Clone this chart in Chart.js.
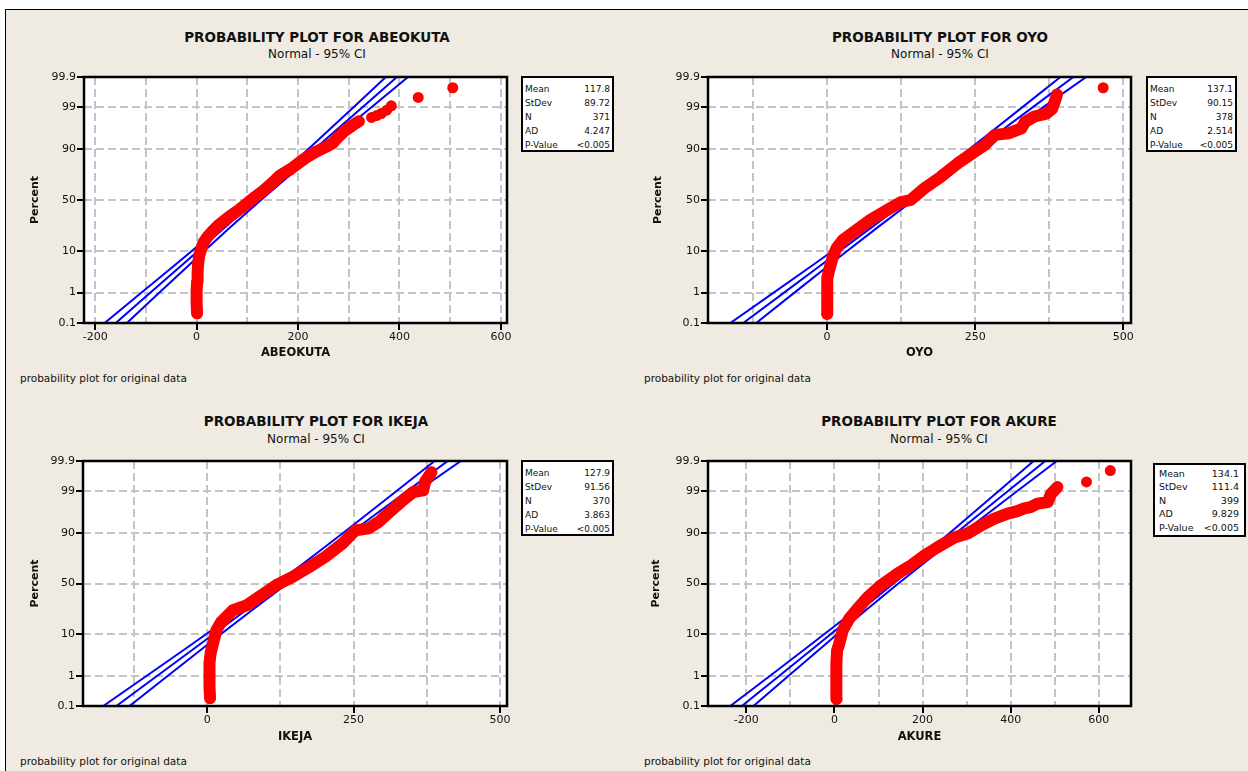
<!DOCTYPE html>
<html>
<head>
<meta charset="utf-8">
<title>Probability plots</title>
<script src="https://cdn.jsdelivr.net/npm/chart.js@4.4.1/dist/chart.umd.min.js"></script>
<style>
  html, body { margin: 0; padding: 0; background: #fff; }
  #page { position: relative; width: 1248px; height: 771px; overflow: hidden; background: #fff; font-family: 'DejaVu Sans', sans-serif; color: #111; }
  #sheet { position: absolute; left: 5px; top: 9px; right: 0; bottom: 0; background: #efebe2; border-top: 1px solid #000; border-left: 1px solid #000; }
  canvas { position: absolute; }
  .title, .sub { position: absolute; width: 400px; margin-left: -200px; text-align: center; line-height: 16px; white-space: nowrap; }
  .title { font-weight: bold; font-size: 13.5px; }
  .sub { font-size: 12px; }
  .note { position: absolute; font-size: 10.5px; line-height: 14px; white-space: nowrap; }
  .stats { position: absolute; box-sizing: border-box; border: 2px solid #000; background: #fff; }
  .stats table { border-collapse: collapse; width: 100%; }
  .stats td { padding: 0; white-space: nowrap; }
  .stats td + td { text-align: right; }
</style>
</head>
<body>
<div id="page">
  <div id="sheet"></div>

  <div class="title" style="left:317px; top:29px">PROBABILITY PLOT FOR ABEOKUTA</div>
  <div class="sub" style="left:317px; top:46px">Normal - 95% CI</div>
  <div class="note" style="left:20px; top:371px">probability plot for original data</div>

  <div class="title" style="left:940px; top:29px">PROBABILITY PLOT FOR OYO</div>
  <div class="sub" style="left:940px; top:46px">Normal - 95% CI</div>
  <div class="note" style="left:644px; top:371px">probability plot for original data</div>

  <div class="title" style="left:316px; top:413px">PROBABILITY PLOT FOR IKEJA</div>
  <div class="sub" style="left:316px; top:431px">Normal - 95% CI</div>
  <div class="note" style="left:20px; top:754px">probability plot for original data</div>

  <div class="title" style="left:939px; top:413px">PROBABILITY PLOT FOR AKURE</div>
  <div class="sub" style="left:939px; top:431px">Normal - 95% CI</div>
  <div class="note" style="left:644px; top:754px">probability plot for original data</div>
</div>

<script>
// percent axis and the percent levels where the fitted line / CI were read
const pctTicks = [0.1, 1, 10, 50, 90, 99, 99.9];
const ciPct = [0.1, 1, 5, 10, 25, 50, 75, 90, 95, 99, 99.9];
const statNames = ['Mean', 'StDev', 'N', 'AD', 'P-Value'];

// ABEOKUTA
const abeokutaX = [1, 0, 0, 1, 2, 3, 5, 9, 14, 22, 32, 45, 65, 80, 98, 115, 131, 150, 164, 185, 200, 215, 235, 256, 268, 276, 290, 305, 320];
const abeokutaPct = [0.22, 0.5, 1.1, 2, 3.5, 5.5, 8, 11, 14.5, 18, 22, 27, 34, 39, 46, 53, 59, 67, 73, 78, 82, 85.5, 88.7, 91, 92.3, 93.8, 95.7, 96.8, 97.6];
const abeokutaTailX = [345, 355, 364, 375, 384, 437, 505];
const abeokutaTailPct = [98.1, 98.3, 98.5, 98.8, 99.1, 99.5, 99.76];
const abeokutaFit = [-159.4, -90.9, -29.8, 2.8, 57.3, 117.8, 178.3, 232.8, 265.4, 326.5, 395.0];
const abeokutaLower = [-181.3, -108.5, -43.8, -9.5, 47.2, 108.7, 168.2, 220.5, 251.4, 308.9, 373.1];
const abeokutaUpper = [-137.5, -73.3, -15.8, 15.1, 67.4, 126.9, 188.4, 245.1, 279.4, 344.1, 416.9];
const abeokutaGrid = [-200, -100, 0, 100, 200, 300, 400, 500, 600];
const abeokutaLabels = [-200, 0, 200, 400, 600];
const abeokutaStats = ['117.8', '89.72', '371', '4.247', '<0.005'];

// OYO
const oyoX = [0, 0, 0, 1, 5, 10, 16, 27, 50, 73, 101, 125, 141, 164, 192, 220, 249, 266, 283, 306, 328, 334, 350, 370, 380, 386, 388];
const oyoPct = [0.21, 0.47, 1.2, 2.5, 4.7, 7.8, 11.3, 15.9, 22.7, 30.8, 40, 48, 50, 61.5, 72, 82, 88.7, 91.6, 94.9, 95.3, 96.4, 97.5, 98.2, 98.5, 98.9, 99.46, 99.6];
const oyoTailX = [466];
const oyoTailPct = [99.76];
const oyoFit = [-141.5, -72.6, -11.2, 21.6, 76.3, 137.1, 197.9, 252.6, 285.4, 346.8, 415.7];
const oyoLower = [-163.3, -90.1, -25.1, 9.3, 66.2, 128.0, 187.8, 240.3, 271.5, 329.3, 393.9];
const oyoUpper = [-119.7, -55.1, 2.7, 33.9, 86.4, 146.2, 208.0, 264.9, 299.3, 364.3, 437.5];
const oyoGrid = [-125, 0, 125, 250, 375, 500];
const oyoLabels = [0, 250, 500];
const oyoStats = ['137.1', '90.15', '378', '2.514', '<0.005'];

// IKEJA
const ikejaX = [5, 4, 4, 4, 6, 10, 16, 24, 44, 67, 89, 118, 146, 174, 202, 231, 253, 276, 293, 315, 338, 352, 369, 372, 383];
const ikejaPct = [0.19, 0.47, 1, 2.3, 4, 6.5, 12, 16.6, 25, 29, 36.8, 48.4, 56.7, 66, 75, 84.3, 91, 91.8, 94, 96.8, 98.4, 98.95, 99.06, 99.48, 99.75];
const ikejaTailX = [];
const ikejaTailPct = [];
const ikejaFit = [-155.0, -85.1, -22.7, 10.6, 66.2, 127.9, 189.6, 245.2, 278.5, 340.9, 410.8];
const ikejaLower = [-177.4, -103.1, -37.0, -2.0, 55.9, 118.6, 179.3, 232.6, 264.2, 322.9, 388.4];
const ikejaUpper = [-132.6, -67.1, -8.4, 23.2, 76.5, 137.2, 199.9, 257.8, 292.8, 358.9, 433.2];
const ikejaGrid = [-125, 0, 125, 250, 375, 500];
const ikejaLabels = [0, 250, 500];
const ikejaStats = ['127.9', '91.56', '370', '3.863', '<0.005'];

// AKURE
const akureX = [5, 4, 4, 5, 6, 11, 19, 34, 53, 76, 106, 144, 174, 204, 234, 272, 302, 333, 363, 393, 415, 431, 445, 461, 484, 491, 506];
const akurePct = [0.18, 0.41, 0.94, 2.2, 4.6, 6.5, 12, 19, 26.4, 36.8, 48.4, 60, 67.7, 76, 82, 87.7, 89.6, 92.9, 94.9, 96.1, 96.6, 97.1, 97.3, 97.8, 98, 98.8, 99.25];
const akureTailX = [572, 626];
const akureTailPct = [99.48, 99.78];
const akureFit = [-210.1, -125.0, -49.2, -8.7, 59.0, 134.1, 209.2, 276.9, 317.4, 393.2, 478.3];
const akureLower = [-236.4, -146.0, -66.0, -23.5, 46.9, 123.2, 197.1, 262.2, 300.6, 372.2, 452.0];
const akureUpper = [-183.8, -104.0, -32.4, 6.1, 71.1, 145.0, 221.3, 291.7, 334.2, 414.2, 504.6];
const akureGrid = [-200, -100, 0, 100, 200, 300, 400, 500, 600];
const akureLabels = [-200, 0, 200, 400, 600];
const akureStats = ['134.1', '111.4', '399', '9.829', '<0.005'];

// inverse normal cdf (Acklam) - used by the percent scale
function qnorm(p) {
  const a = [-39.69683028665376, 220.9460984245205, -275.9285104469687, 138.3577518672690, -30.66479806614716, 2.506628277459239];
  const b = [-54.47609879822406, 161.5858368580409, -155.6989798598866, 66.80131188771972, -13.28068155288572];
  const c = [-0.007784894002430293, -0.3223964580411365, -2.400758277161838, -2.549732539343734, 4.374664141464968, 2.938163982698783];
  const d = [0.007784695709041462, 0.3224671290700398, 2.445134137142996, 3.754408661907416];
  const lo = 0.02425;
  let q, r;
  if (p < lo) {
    q = Math.sqrt(-2 * Math.log(p));
    return (((((c[0]*q+c[1])*q+c[2])*q+c[3])*q+c[4])*q+c[5]) / ((((d[0]*q+d[1])*q+d[2])*q+d[3])*q+1);
  }
  if (p > 1 - lo) {
    q = Math.sqrt(-2 * Math.log(1 - p));
    return -(((((c[0]*q+c[1])*q+c[2])*q+c[3])*q+c[4])*q+c[5]) / ((((d[0]*q+d[1])*q+d[2])*q+d[3])*q+1);
  }
  q = p - 0.5; r = q * q;
  return (((((a[0]*r+a[1])*r+a[2])*r+a[3])*r+a[4])*r+a[5])*q / (((((b[0]*r+b[1])*r+b[2])*r+b[3])*r+b[4])*r+1);
}

function pnorm(z) {
  const t = 1 / (1 + 0.3275911 * Math.abs(z) / Math.SQRT2);
  const e = 1 - (((((1.061405429*t - 1.453152027)*t) + 1.421413741)*t - 0.284496736)*t + 0.254829592)*t * Math.exp(-z*z/2);
  return z >= 0 ? (1 + e) / 2 : (1 - e) / 2;
}

// normal probability axis (percent values, spaced by normal quantile)
class ProbabilityScale extends Chart.LinearScale {
  static id = 'probability';
  static defaults = {};
  determineDataLimits() {
    this.min = this.options.min;
    this.max = this.options.max;
  }
  buildTicks() {
    return pctTicks.map(v => ({ value: v }));
  }
  getPixelForValue(value) {
    const z0 = qnorm(this.min / 100), z1 = qnorm(this.max / 100);
    return this.getPixelForDecimal((qnorm(value / 100) - z0) / (z1 - z0));
  }
  getValueForPixel(pixel) {
    const z0 = qnorm(this.min / 100), z1 = qnorm(this.max / 100);
    return 100 * pnorm(z0 + this.getDecimalForPixel(pixel) * (z1 - z0));
  }
}
Chart.register(ProbabilityScale);

Chart.defaults.font.family = "'DejaVu Sans', sans-serif";
Chart.defaults.color = '#111';

const plotFrame = {
  id: 'plotFrame',
  beforeDraw(chart) {
    const a = chart.chartArea, ctx = chart.ctx;
    ctx.save();
    ctx.fillStyle = '#fff';
    ctx.fillRect(a.left, a.top, a.right - a.left, a.bottom - a.top);
    ctx.restore();
  },
  afterDraw(chart) {
    const a = chart.chartArea, ctx = chart.ctx;
    ctx.save();
    ctx.strokeStyle = '#000';
    ctx.lineWidth = 2.5;
    ctx.strokeRect(a.left, a.top, a.right - a.left, a.bottom - a.top);
    ctx.restore();
  }
};

const pairs = (xs, ys) => xs.map((x, i) => ({ x: x, y: ys[i] }));

const panels = [
  { name: 'ABEOKUTA', box: { x: 0, y: 0, w: 620, h: 385 }, area: { l: 84, t: 77, r: 507, b: 323 },
    xMin: -222, xMax: 612, grid: abeokutaGrid, labels: abeokutaLabels,
    band: [abeokutaX, abeokutaPct], tail: [abeokutaTailX, abeokutaTailPct],
    ci: [abeokutaLower, abeokutaFit, abeokutaUpper], stats: abeokutaStats,
    yTitleX: 35, xTitleY: 353,
    statBox: { x: 521, y: 76, w: 93, h: 76, pad: '4px 2px 0 2px', font: 9, row: 14 } },
  { name: 'OYO', box: { x: 620, y: 0, w: 628, h: 385 }, area: { l: 708, t: 77, r: 1131, b: 323 },
    xMin: -201, xMax: 513, grid: oyoGrid, labels: oyoLabels,
    band: [oyoX, oyoPct], tail: [oyoTailX, oyoTailPct],
    ci: [oyoLower, oyoFit, oyoUpper], stats: oyoStats,
    yTitleX: 658, xTitleY: 353,
    statBox: { x: 1146, y: 76, w: 91, h: 76, pad: '4px 2px 0 2px', font: 9, row: 14 } },
  { name: 'IKEJA', box: { x: 0, y: 385, w: 620, h: 386 }, area: { l: 83, t: 461, r: 507, b: 706 },
    xMin: -212, xMax: 512, grid: ikejaGrid, labels: ikejaLabels,
    band: [ikejaX, ikejaPct], tail: [ikejaTailX, ikejaTailPct],
    ci: [ikejaLower, ikejaFit, ikejaUpper], stats: ikejaStats,
    yTitleX: 35.5, xTitleY: 737.5,
    statBox: { x: 521, y: 460, w: 93, h: 76, pad: '4px 2px 0 2px', font: 9, row: 14 } },
  { name: 'AKURE', box: { x: 620, y: 385, w: 628, h: 386 }, area: { l: 708, t: 461, r: 1131, b: 706 },
    xMin: -287, xMax: 673, grid: akureGrid, labels: akureLabels,
    band: [akureX, akurePct], tail: [akureTailX, akureTailPct],
    ci: [akureLower, akureFit, akureUpper], stats: akureStats,
    yTitleX: 656, xTitleY: 737.5,
    statBox: { x: 1153, y: 463, w: 93, h: 74, pad: '1.5px 5px 0 4px', font: 9.5, row: 13.6 } }
];

const page = document.getElementById('page');

function addStats(p) {
  const s = p.statBox;
  const div = document.createElement('div');
  div.className = 'stats';
  Object.assign(div.style, { left: s.x + 'px', top: s.y + 'px', width: s.w + 'px', height: s.h + 'px', padding: s.pad, fontSize: s.font + 'px' });
  let html = '<table>';
  statNames.forEach((n, i) => {
    html += '<tr style="height:' + s.row + 'px; line-height:' + s.row + 'px"><td>' + n + '</td><td>' + p.stats[i].replace('<', '&lt;') + '</td></tr>';
  });
  div.innerHTML = html + '</table>';
  page.appendChild(div);
}

function drawPanel(p) {
  const canvas = document.createElement('canvas');
  canvas.width = p.box.w;
  canvas.height = p.box.h;
  canvas.style.left = p.box.x + 'px';
  canvas.style.top = p.box.y + 'px';
  page.appendChild(canvas);

  const blue = xs => ({ data: pairs(xs, ciPct), showLine: true, borderColor: '#0000ff', borderWidth: 2, pointRadius: 0, order: 2 });

  new Chart(canvas, {
    type: 'scatter',
    data: {
      datasets: [
        { data: pairs(p.band[0], p.band[1]), showLine: true, borderColor: '#ff0000', borderWidth: 12,
          borderCapStyle: 'round', borderJoinStyle: 'round', pointRadius: 5.5, pointBorderWidth: 0,
          pointBackgroundColor: '#ff0000', order: 1 },
        { data: pairs(p.tail[0], p.tail[1]), pointRadius: 5.5, pointBorderWidth: 0,
          pointBackgroundColor: '#ff0000', order: 0 },
        blue(p.ci[0]), blue(p.ci[1]), blue(p.ci[2])
      ]
    },
    options: {
      responsive: false,
      animation: false,
      events: [],
      layout: { padding: { left: 0, bottom: 0, top: p.area.t - p.box.y, right: p.box.x + p.box.w - p.area.r } },
      plugins: { legend: { display: false }, tooltip: { enabled: false } },
      scales: {
        x: {
          type: 'linear',
          min: p.xMin,
          max: p.xMax,
          afterBuildTicks: s => { s.ticks = p.grid.map(v => ({ value: v })); },
          afterFit: s => { s.height = p.box.y + p.box.h - p.area.b; },
          ticks: {
            autoSkip: false, maxRotation: 0, padding: 1,
            font: { size: 11 }, color: '#111',
            callback: v => p.labels.includes(v) ? String(v) : ''
          },
          grid: {
            color: '#c4c4c4', lineWidth: 2, tickLength: 7, tickWidth: 2,
            tickColor: c => p.labels.includes(c.tick.value) ? '#000' : 'rgba(0,0,0,0)'
          },
          border: { display: false, dash: [8, 4] },
          title: {
            display: true, text: p.name, color: '#111',
            font: { size: 11.5, weight: 'bold' },
            padding: { top: 0, bottom: p.box.y + p.box.h - p.xTitleY - 6.9 }
          }
        },
        y: {
          type: 'probability',
          min: 0.1,
          max: 99.9,
          afterFit: s => { s.width = p.area.l - p.box.x; },
          ticks: { autoSkip: false, padding: 1, font: { size: 11 }, color: '#111', callback: v => String(v) },
          grid: { color: '#c4c4c4', lineWidth: 2, tickLength: 7, tickWidth: 2, tickColor: '#000' },
          border: { display: false, dash: [8, 4] },
          title: {
            display: true, text: 'Percent', color: '#111',
            font: { size: 11, weight: 'bold' },
            padding: { top: p.yTitleX - p.box.x - 6.6, bottom: 0 }
          }
        }
      }
    },
    plugins: [plotFrame]
  });

  addStats(p);
}

panels.forEach(drawPanel);
</script>
</body>
</html>
